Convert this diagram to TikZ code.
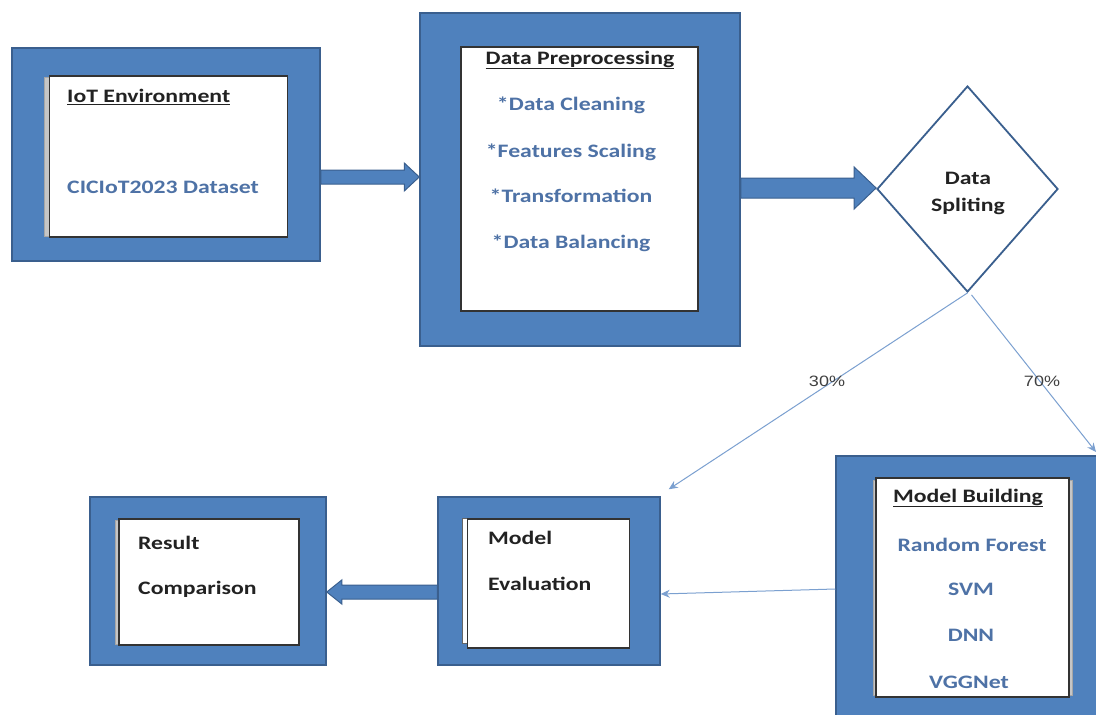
\documentclass[tikz,border=0pt]{standalone}
\usepackage{fontspec}
\setmainfont{Carlito}[FakeStretch=1.25]
\newfontfamily\pctfont{Liberation Sans}[FakeStretch=1.2]
\usetikzlibrary{shapes.geometric,calc,arrows.meta}
\definecolor{boxfill}{HTML}{4F81BD}
\definecolor{boxdraw}{HTML}{3A5F8E}
\definecolor{txtblue}{HTML}{4E72A6}
\definecolor{txtdark}{HTML}{222222}
\definecolor{thinline}{HTML}{7BA0D0}
\tikzset{
  outerbox/.style={rectangle, fill=boxfill, draw=boxdraw, line width=1.5pt, inner sep=0pt},
  innerbox/.style={rectangle, fill=white, draw=black!80, line width=1.2pt, inner sep=0pt},
  backpage/.style={rectangle, fill=gray!45, draw=gray!70, line width=0.6pt, inner sep=0pt},
  ttl/.style={font=\fontsize{19}{22}\selectfont\bfseries, text=txtdark, inner sep=0pt},
  itm/.style={font=\fontsize{19}{22}\selectfont\bfseries, text=txtblue, inner sep=0pt},
  pct/.style={font=\fontsize{15}{18}\selectfont\pctfont, text=black!75, inner sep=0pt},
  barrow/.style={fill=boxfill, draw=boxdraw, line width=1pt, line join=miter},
  thinarrow/.style={draw=thinline, line width=1pt, -{Stealth[length=9pt,width=8pt]}},
  decision/.style={diamond, draw=boxdraw, fill=white, line width=1.8pt, inner sep=0pt}
}
\begin{document}
\begin{tikzpicture}[x=1pt,y=-1pt]
\useasboundingbox (0,0) rectangle (1096,715);
\clip (0,0) rectangle (1096,715);
\fill[white] (0,0) rectangle (1096,715);

% IoT Environment
\node[outerbox, minimum width=308, minimum height=213] (iotO) at (166,154.5) {};
\node[backpage, minimum width=241, minimum height=159] (iotB) at (165,156.5) {};
\node[innerbox, minimum width=238, minimum height=161] (iotI) at (168.5,156.5) {};
\node[ttl, anchor=west] (iotT) at (67,97) {\underline{IoT Environment}};
\node[itm, anchor=west] (iotD) at (67,187) {CICIoT2023 Dataset};

% Data Preprocessing
\node[outerbox, minimum width=320, minimum height=333] (dpO) at (580,179.5) {};
\node[innerbox, minimum width=237, minimum height=264] (dpI) at (579.5,179) {};
\node[ttl] (dpT) at (580,60) {\underline{Data Preprocessing}};
\node[itm] (dp1) at (571,105) {*Data Cleaning};
\node[itm] (dp2) at (571,152) {*Features Scaling};
\node[itm] (dp3) at (571,196) {*Transformation};
\node[itm] (dp4) at (571,243) {*Data Balancing};

% Data Spliting
\node[decision, minimum width=181, minimum height=206] (dia) at (967.5,189) {};
\node[ttl] (diaT1) at (968,178) {Data};
\node[ttl] (diaT2) at (968,206) {Spliting};

% Model Building (cut at picture edge)
\node[outerbox, minimum width=280, minimum height=280] (mbO) at (976,596) {};
\node[backpage, minimum width=199, minimum height=215] (mbB) at (972.5,587.5) {};
\node[innerbox, minimum width=193, minimum height=219] (mbI) at (972.5,587.5) {};
\node[ttl] (mbT) at (968,498) {\underline{Model Building}};
\node[itm] (mb1) at (972,545) {Random Forest};
\node[itm] (mb2) at (971,589) {SVM};
\node[itm] (mb3) at (971,635) {DNN};
\node[itm] (mb4) at (969,682) {VGGNet};

% Model Evaluation
\node[outerbox, minimum width=222, minimum height=168] (meO) at (549,581) {};
\node[innerbox, draw=black!60, line width=0.8pt, minimum width=164, minimum height=125] (meB) at (544,581) {};
\node[innerbox, minimum width=162, minimum height=129] (meI) at (548.5,583.5) {};
\node[ttl, anchor=west] (meT1) at (488,538) {Model};
\node[ttl, anchor=west] (meT2) at (488,584) {Evaluation};

% Result Comparison
\node[outerbox, minimum width=236, minimum height=168] (rcO) at (208,581) {};
\node[backpage, minimum width=182, minimum height=124] (rcB) at (206.5,582) {};
\node[innerbox, minimum width=180, minimum height=126] (rcI) at (209,582) {};
\node[ttl, anchor=west] (rcT1) at (138,543) {Result};
\node[ttl, anchor=west] (rcT2) at (138,589) {Comparison};

% block arrows
\path let \p1=(iotO.east |- 0,177), \p2=(dpO.west |- 0,177) in
  [barrow] (\x1,\y1+7) -- (\x2-15,\y1+7) -- (\x2-15,\y1+14) -- (\x2,\y1)
  -- (\x2-15,\y1-14) -- (\x2-15,\y1-7) -- (\x1,\y1-7) -- cycle;
\path let \p1=(dpO.east |- 0,188), \p2=(dia.west) in
  [barrow] (\x1,\y1+10) -- (\x2-22,\y1+10) -- (\x2-22,\y1+21) -- (\x2,\y1)
  -- (\x2-22,\y1-21) -- (\x2-22,\y1-10) -- (\x1,\y1-10) -- cycle;
\path let \p1=(meO.west |- 0,592), \p2=(rcO.east |- 0,592) in
  [barrow] (\x1,\y1+7) -- (\x2+15,\y1+7) -- (\x2+15,\y1+12) -- (\x2,\y1)
  -- (\x2+15,\y1-12) -- (\x2+15,\y1-7) -- (\x1,\y1-7) -- cycle;

% thin connectors
\coordinate (offR) at (1096,452);
\draw[thinarrow] (dia.south) -- ($(meO.north east)+(8,-7)$);
\draw[thinarrow] ($(dia.south)+(4,2)$) -- (offR);
\draw[thinarrow] (mbO.west |- 0,589) -- (meO.east |- 0,594);
\node[pct] (p30) at (827,381) {30\%};
\node[pct] (p70) at (1042,381) {70\%};
\end{tikzpicture}
\end{document}
